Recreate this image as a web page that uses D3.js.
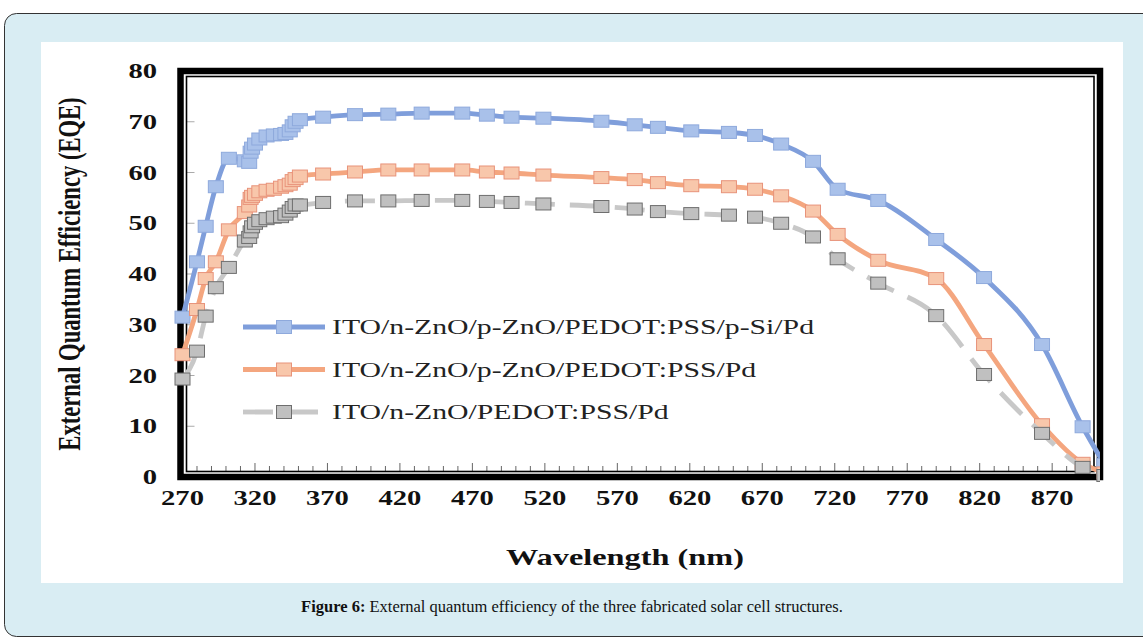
<!DOCTYPE html>
<html>
<head>
<meta charset="utf-8">
<script src="https://cdn.jsdelivr.net/npm/d3@7"></script>
<style>
body { margin: 0; background: #fff; }
svg { display: block; }
</style>
</head>
<body>
<svg id="chart" width="1143" height="639"></svg>
<script>
// wavelengths (nm) shared by the three structures
var wavelengths = [270, 280, 286, 293, 302, 313, 316, 317, 318, 320, 323, 328, 333, 338, 341, 344, 346, 348, 351,
  367, 389, 412, 435, 463, 480, 497, 519, 559, 582, 598, 621, 647, 665, 683, 705, 722, 750, 790, 823, 863, 891, 906];

// EQE values
var eqeSi = [31.5, 42.4, 49.4, 57.2, 62.8, 62.3, 62.0, 64.0, 64.8, 65.6, 66.6, 67.2, 67.4, 67.5, 67.7, 68.2, 69.2, 69.9, 70.4,
  70.9, 71.4, 71.5, 71.7, 71.7, 71.3, 70.9, 70.7, 70.1, 69.4, 68.9, 68.2, 67.9, 67.3, 65.6, 62.2, 56.7, 54.5, 46.8, 39.3, 26.1, 9.9, 2.5];
var eqePZnO = [24.1, 33.0, 39.1, 42.4, 48.7, 52.1, 53.4, 54.9, 55.3, 55.7, 56.2, 56.5, 56.7, 57.1, 57.4, 57.7, 58.4, 58.8, 59.3,
  59.7, 60.1, 60.5, 60.5, 60.5, 60.1, 59.9, 59.5, 59.0, 58.6, 58.0, 57.4, 57.2, 56.7, 55.4, 52.4, 47.8, 42.7, 39.1, 26.1, 10.3, 2.7, 0.8];
var eqeNZnO = [19.3, 24.8, 31.7, 37.3, 41.3, 46.5, 47.2, 48.3, 49.3, 50.0, 50.5, 50.9, 51.2, 51.3, 51.8, 52.4, 53.1, 53.6, 53.6,
  54.1, 54.4, 54.4, 54.5, 54.5, 54.3, 54.1, 53.8, 53.3, 52.8, 52.3, 51.9, 51.6, 51.2, 50.0, 47.3, 43.0, 38.2, 31.8, 20.2, 8.6, 1.9, 0.3];

var seriesNames = ["ITO/n-ZnO/p-ZnO/PEDOT:PSS/p-Si/Pd", "ITO/n-ZnO/p-ZnO/PEDOT:PSS/Pd", "ITO/n-ZnO/PEDOT:PSS/Pd"];
var xTicks = [270, 320, 370, 420, 470, 520, 570, 620, 670, 720, 770, 820, 870];
var yTicks = [0, 10, 20, 30, 40, 50, 60, 70, 80];

var styles = [
  {line: "#7f9edb", fill: "#a9c1ea", edge: "#8ea9dc", dash: null},
  {line: "#f4a67f", fill: "#f8c7ab", edge: "#e8937a", dash: null},
  {line: "#c8c8c8", fill: "#c0c0c0", edge: "#6e6e6e", dash: "30,15"}
];

// the picture is stretched sideways, so text is too
var sx = 1.43;

var svg = d3.select("#chart");

// page panel and white figure box
svg.append("rect")
  .attr("x", 4.5).attr("y", 13.5)
  .attr("width", 1170).attr("height", 623)
  .attr("rx", 12)
  .attr("fill", "#d9edf3")
  .attr("stroke", "#333");
svg.append("rect")
  .attr("x", 41).attr("y", 42)
  .attr("width", 1082).attr("height", 541)
  .attr("fill", "#fff");

var xs = d3.scaleLinear().domain([270, 903]).range([182.5, 1100]);
var ys = d3.scaleLinear().domain([0, 80]).range([477, 71]);

var pLeft = xs(270) - 2, pRight = xs(903), pTop = ys(80), pBottom = ys(0);

function stext(g, x, y, str) {
  return g.append("text")
    .attr("transform", "translate(" + x + "," + y + ") scale(" + sx + ",1)")
    .text(str);
}

var chart = svg.append("g");

// ticks
var minor = d3.range(270, 903, 10);
chart.selectAll(".xtick")
  .data(minor)
  .enter()
  .append("line")
  .attr("class", "xtick")
  .attr("x1", function(d) { return xs(d); })
  .attr("x2", function(d) { return xs(d); })
  .attr("y1", pBottom - 6)
  .attr("y2", function(d) { return xTicks.indexOf(d) >= 0 ? pBottom - 14 : pBottom - 11; })
  .attr("stroke", "#666")
  .attr("stroke-width", 1);

chart.selectAll(".ytick")
  .data(yTicks.slice(1, -1))
  .enter()
  .append("line")
  .attr("class", "ytick")
  .attr("x1", pLeft + 6)
  .attr("x2", pLeft + 14)
  .attr("y1", function(d) { return ys(d); })
  .attr("y2", function(d) { return ys(d); })
  .attr("stroke", "#aaa")
  .attr("stroke-width", 1);

// tick labels
var lab = chart.append("g")
  .attr("font-family", "'Liberation Serif', 'Times New Roman', serif")
  .attr("font-weight", "bold")
  .attr("font-size", 20)
  .attr("fill", "#111");

xTicks.forEach(function(t) {
  stext(lab, xs(t), 505, t).attr("text-anchor", "middle");
});
yTicks.forEach(function(t) {
  stext(lab, 157, ys(t) + 7, t).attr("text-anchor", "end");
});

// axis titles
var titles = chart.append("g")
  .attr("font-family", "'Liberation Serif', 'Times New Roman', serif")
  .attr("font-weight", "bold")
  .attr("font-size", 22.6)
  .attr("fill", "#111");

stext(titles, 625, 565, "Wavelength (nm)").attr("text-anchor", "middle");
titles.append("text")
  .attr("transform", "translate(80," + (pTop + pBottom) / 2 + ") scale(" + sx + ",1) rotate(-90)")
  .attr("text-anchor", "middle")
  .text("External Quantum Efficiency (EQE)");

// frame: heavy outer line with a thin one just inside
chart.append("rect")
  .attr("x", pLeft).attr("y", pTop)
  .attr("width", pRight - pLeft).attr("height", pBottom - pTop)
  .attr("fill", "none")
  .attr("stroke", "#000")
  .attr("stroke-width", 6.5);
chart.append("rect")
  .attr("x", pLeft + 6).attr("y", pTop + 5.5)
  .attr("width", pRight - pLeft - 12).attr("height", pBottom - pTop - 11)
  .attr("fill", "none")
  .attr("stroke", "#000")
  .attr("stroke-width", 1.6);

// series, drawn over the frame
svg.append("clipPath")
  .attr("id", "plotclip")
  .append("rect")
  .attr("x", 160).attr("y", 50)
  .attr("width", pRight - 160).attr("height", pBottom - 50 + 10);

var plot = chart.append("g").attr("clip-path", "url(#plotclip)");

var line = d3.line()
  .x(function(d) { return xs(d[0]); })
  .y(function(d) { return ys(d[1]); })
  .curve(d3.curveMonotoneX);

[eqeSi, eqePZnO, eqeNZnO].forEach(function(vals, i) {
  var pts = wavelengths.map(function(w, j) { return [w, vals[j]]; });
  var st = styles[i];
  var g = plot.append("g");
  g.append("path")
    .attr("d", line(pts))
    .attr("fill", "none")
    .attr("stroke", st.line)
    .attr("stroke-width", 4.8)
    .attr("stroke-linejoin", "round")
    .attr("stroke-dasharray", st.dash);
  g.selectAll("rect")
    .data(pts)
    .enter()
    .append("rect")
    .attr("x", function(d) { return xs(d[0]) - 7.5; })
    .attr("y", function(d) { return ys(d[1]) - 6; })
    .attr("width", 15)
    .attr("height", 12)
    .attr("fill", st.fill)
    .attr("stroke", st.edge)
    .attr("stroke-width", 1);
});

// legend
var legend = chart.append("g")
  .attr("font-family", "'Liberation Serif', 'Times New Roman', serif")
  .attr("font-size", 20.8)
  .attr("fill", "#222");

seriesNames.forEach(function(name, i) {
  var st = styles[i];
  var y = 327 + i * 42.5;
  legend.append("line")
    .attr("x1", 243).attr("x2", 325)
    .attr("y1", y).attr("y2", y)
    .attr("stroke", st.line)
    .attr("stroke-width", 4.8)
    .attr("stroke-dasharray", st.dash);
  legend.append("rect")
    .attr("x", 284 - 7.5).attr("y", y - 6.5)
    .attr("width", 15).attr("height", 13)
    .attr("fill", st.fill)
    .attr("stroke", st.edge);
  stext(legend, 332, y + 7, name);
});

// caption
var cap = svg.append("text")
  .attr("x", 572).attr("y", 612)
  .attr("text-anchor", "middle")
  .attr("font-family", "'Liberation Serif', 'Times New Roman', serif")
  .attr("font-size", 16.5)
  .attr("fill", "#111");
cap.append("tspan").attr("font-weight", "bold").text("Figure 6:");
cap.append("tspan").text(" External quantum efficiency of the three fabricated solar cell structures.");
</script>
</body>
</html>
